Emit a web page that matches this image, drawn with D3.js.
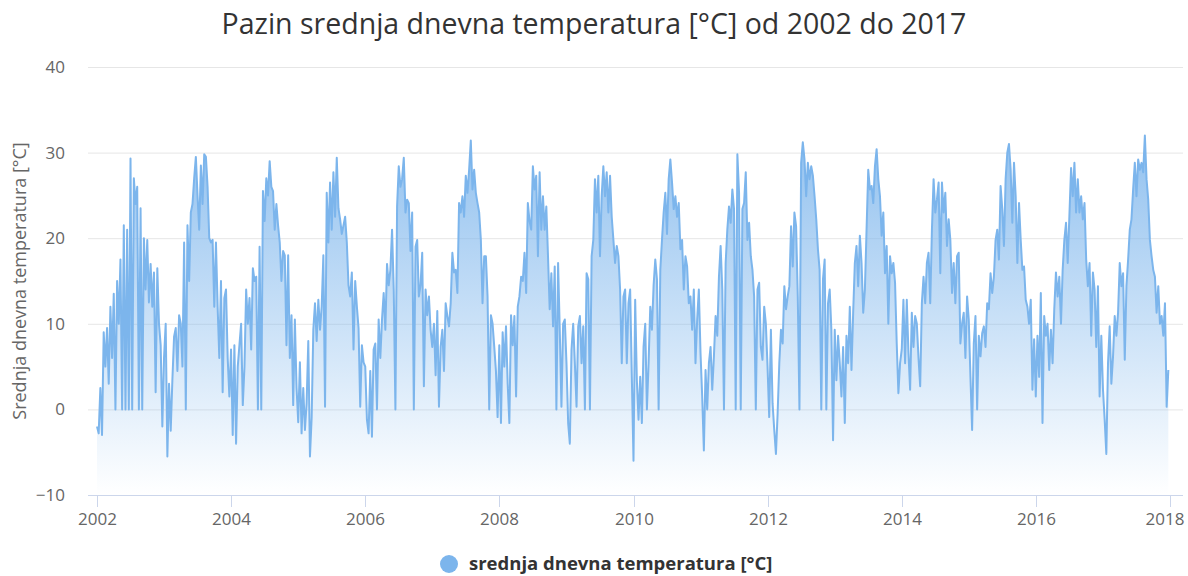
<!DOCTYPE html>
<html lang="hr">
<head>
<meta charset="utf-8">
<title>Pazin srednja dnevna temperatura</title>
<script src="https://d3js.org/d3.v7.min.js"></script>
<style>
  body { margin: 0; background: #fff; }
  text { font-family: "Open Sans", "DejaVu Sans", sans-serif; }
</style>
</head>
<body>
<div id="chart"></div>
<script>
// values, 40 per year (about every 9 days)
var t2002 = [-2,-2.8,2.5,-3,9,5,9.5,3,12,6,13.5,0,15,10,17.5,0,21.5,0,21,0,29.3,0,27,24,26,0,23.5,0,20,14,19.8,12.5,17,12,16,2,16.5,10,7.5,-2];
var t2003 = [6,10,-5.5,3,-2.5,3.5,8.5,9.5,4.5,11,10,5,19.5,0,21.5,15,23,24,27,29.5,25,21,28.5,24,29.8,29.5,26,20,19.5,19.8,12,19.5,12,6,15,2,13,14,6,1.5];
var t2004 = [7,-3,7.5,-4,5,7.5,10,0.5,5,14,10,13,7,16.5,15,15.5,0,19,0,25.5,22,27,25,29,26,25.5,21,24,21.5,19.5,15,18.5,18,7.5,18,6,11,0.5,10.5,2.5];
var t2005 = [-1.5,5.5,-2.8,2.5,-2.4,0.7,8,-5.5,-1,9.3,12.4,8,12.8,9.3,12,18,0.3,25.3,19.5,26.5,21,27.7,22.5,29.4,23.5,22.2,20.5,21.5,22.5,19.5,14.5,13.2,16,7,15,12,9.5,0.3,7.5,5.5];
var t2006 = [5,-1.2,-2.8,4.5,-3.2,7,7.7,0,10.5,6,10.5,13.6,9.3,17,14.5,16.3,21,14,0,23.7,28.4,26,26.9,29.4,23,24.5,24.1,18.5,23,0,19,19.8,13.2,14.5,18.3,2.7,14,11,13.2,9.3];
var t2007 = [7.3,10,4,11.5,0.3,7.3,9.3,4.5,12.4,10.9,9.7,12.4,18.3,16,16.3,13.6,24.1,23,24.9,22.5,27.3,25.3,28,31.4,25.7,28,25.3,24.1,23,19.8,12.4,17.9,17.9,13.2,0,11,10,7.3,4.5,-0.9];
var t2008 = [7.5,-1.6,9,5,9.7,3,-1.6,11,7.5,10.9,1.5,12,13.2,15.5,15,18.3,13.6,24.1,22,21,28.4,25.7,27.3,17.9,27.7,21,24.9,21,23.7,17.9,11.7,15.9,9.7,16.7,0,17.1,9.3,0.3,10,10.5];
var t2009 = [5.4,-1.6,-4,7,10,5.4,0.3,9.7,10.9,5.4,9.7,0,15.9,15.2,0,17.9,19.8,26.9,23,27.3,17.9,24.9,28.4,24.9,27.7,23,27.3,22.5,19.8,17.1,19.1,17.9,14,5.4,13.2,14,5.4,12.4,14,3.8];
var t2010 = [-6,12.8,3.4,-1.2,3.8,-1.6,7.3,10,0,5.4,12,9.3,14.5,17.5,15.2,0,16.3,19.8,23,25.3,20.5,26.9,29.2,26.5,23.4,24.9,22.5,24.1,18.7,19.8,14,17.9,16.7,12.4,13.2,9.3,14,5.4,10.5,14];
var t2011 = [6.6,1.5,-4.8,4.6,0,5.4,7.3,2.3,6.2,10.9,8.6,15.5,19.1,14,0,17.1,21,23.7,21.8,25.7,23.4,0,29.8,25.3,0,23.4,24.1,27.7,19.8,21.8,17.9,16.3,13.2,0,14,14.8,7.3,5.8,12,10];
var t2012 = [5,-0.9,9.3,0.7,-2.4,-5.2,-0.5,5.4,9.3,7.7,14.4,11.7,13.2,14.4,21.4,16.7,23,21.4,13.2,0,28.8,31.2,29.2,24.9,28.8,26.9,28.4,27.3,24.9,22.2,18.7,16.3,0,15.2,17.5,0,12.4,14,9.3,-3.6];
var t2013 = [9.3,3.4,8.6,5.4,1.5,7.3,-1.6,8.6,5.4,12,4.6,11.3,17.1,19.1,14.4,20.3,17.1,11.3,14,21,28,25.7,26.1,24.1,28.4,30.4,26.9,24.9,20.3,23,15.9,19.1,10,17.9,15.9,17.1,14.8,7.7,1.9,5.4];
var t2014 = [7,12.8,5.4,12.8,6.6,2.3,11.3,7.3,10.9,10,6,2.7,12.4,15.5,12.4,17.1,18.3,12.4,20.9,26.9,23,24.5,26.5,15.9,26.5,23,25.3,19.1,22.2,19.8,13.6,17.1,12.4,17.9,18.3,7.7,10,11.3,6,13.2];
var t2015 = [10.5,3.8,-2.4,7.7,10.9,0,8.6,6.2,8.9,9.7,7.3,12.4,11.7,15.9,13.6,15.5,19.8,21,17.5,26.1,23.4,19.1,26.9,30,31,28,21.8,28.8,24.9,17.1,24.1,19.8,16.3,16.7,12.8,12,10,12.8,2.3,8.2];
var t2016 = [1.5,8.6,3.8,13.6,-1.6,10.9,8.6,10,4.6,9.3,5.4,11.7,16,13.2,15.5,10,16.3,19.8,21.8,17.1,22.6,28.2,24.9,28.8,23,26.9,23,24.9,22.2,24.1,17.5,14.4,17.1,8.6,16,14,7.3,14.4,1.5,8.6];
var t2017 = [2.3,-1.2,-5.2,5.4,9.7,3,6.2,10.9,8.6,11.3,17.1,14.4,15.9,5.8,14.4,17.5,21,22.2,25.7,28.8,24.9,29.2,28,28.8,27.7,32,26.9,24.5,19.8,17.9,16.3,15.5,11.3,14.4,10,10.9,8.6,12.4,0.3,4.6];

var years = [2002,2003,2004,2005,2006,2007,2008,2009,2010,2011,2012,2013,2014,2015,2016,2017];
var yearValues = [t2002,t2003,t2004,t2005,t2006,t2007,t2008,t2009,t2010,t2011,t2012,t2013,t2014,t2015,t2016,t2017];
var xTickYears = [2002,2004,2006,2008,2010,2012,2014,2016,2018];
var yTicks = [-10,0,10,20,30,40];

var W = 1188, H = 576;
var plotLeft = 88, plotRight = 1183, plotTop = 67, plotBottom = 495;

var svg = d3.select("#chart").append("svg")
    .attr("width", W).attr("height", H);

var x = d3.scaleTime()
    .domain([new Date(2002, 0, 1), new Date(2018, 0, 1)])
    .range([97, 1170]);
var y = d3.scaleLinear().domain([-10, 40]).range([plotBottom, plotTop]);

// build points from the per-year lists
var data = [];
years.forEach(function(yr, k) {
    var start = new Date(yr, 0, 1), end = new Date(yr + 1, 0, 1);
    var vals = yearValues[k];
    vals.forEach(function(v, i) {
        data.push({date: new Date(+start + (end - start) * i / vals.length), v: v});
    });
});

// gradient fill
var grad = svg.append("defs").append("linearGradient")
    .attr("id", "fill").attr("gradientUnits", "userSpaceOnUse")
    .attr("x1", 0).attr("y1", plotTop).attr("x2", 0).attr("y2", plotBottom);
grad.append("stop").attr("offset", 0).attr("stop-color", "#7cb5ec").attr("stop-opacity", 1);
grad.append("stop").attr("offset", 1).attr("stop-color", "#7cb5ec").attr("stop-opacity", 0);

// title
svg.append("text")
    .attr("x", W / 2).attr("y", 34)
    .attr("text-anchor", "middle")
    .style("font-size", "28.5px").style("fill", "#333")
    .text("Pazin srednja dnevna temperatura [°C] od 2002 do 2017");

// grid lines + y labels
svg.append("g").selectAll("line").data(yTicks.filter(function(d) { return d > -10; }))
    .enter().append("line")
    .attr("x1", plotLeft).attr("x2", plotRight)
    .attr("y1", function(d) { return y(d) + 0.5; })
    .attr("y2", function(d) { return y(d) + 0.5; })
    .attr("stroke", "#e6e6e6").attr("stroke-width", 1);

svg.append("g").selectAll("text").data(yTicks)
    .enter().append("text")
    .attr("x", 65).attr("y", function(d) { return y(d) + 6; })
    .attr("text-anchor", "end")
    .style("font-size", "17px").style("fill", "#666")
    .text(function(d) { return d < 0 ? "\u2212" + Math.abs(d) : d; });

svg.append("text")
    .attr("transform", "translate(26," + ((plotTop + plotBottom) / 2) + ") rotate(-90)")
    .attr("text-anchor", "middle")
    .style("font-size", "18px").style("fill", "#666")
    .text("Srednja dnevna temperatura [°C]");

// area + line
var area = d3.area()
    .x(function(d) { return x(d.date); })
    .y0(y(-10))
    .y1(function(d) { return y(d.v); });
var line = d3.line()
    .x(function(d) { return x(d.date); })
    .y(function(d) { return y(d.v); });

svg.append("path").datum(data)
    .attr("d", area).attr("fill", "url(#fill)");
svg.append("path").datum(data)
    .attr("d", line).attr("fill", "none")
    .attr("stroke", "#7cb5ec").attr("stroke-width", 2)
    .attr("stroke-linejoin", "round");

// x axis
svg.append("line")
    .attr("x1", plotLeft).attr("x2", plotRight)
    .attr("y1", plotBottom + 0.5).attr("y2", plotBottom + 0.5)
    .attr("stroke", "#ccd6eb");

var xt = svg.append("g").selectAll("g")
    .data(xTickYears.map(function(yr) { return new Date(yr, 0, 1); }))
    .enter().append("g")
    .attr("transform", function(d) { return "translate(" + (Math.round(x(d)) + 0.5) + ",0)"; });
xt.append("line")
    .attr("y1", plotBottom).attr("y2", plotBottom + 12)
    .attr("stroke", "#ccd6eb");
xt.append("text")
    .attr("y", plotBottom + 30)
    .attr("text-anchor", "middle")
    .style("font-size", "17px").style("fill", "#666")
    .text(function(d) { return d.getFullYear(); })
    .each(function(d) {
        // keep the last label inside the chart, like the original
        var w = this.getComputedTextLength();
        var over = Math.round(x(d)) + w / 2 - (plotRight + 1);
        if (over > 0) d3.select(this).attr("dx", -over);
    });

// legend
var legend = svg.append("g").attr("transform", "translate(449,564)");
legend.append("circle").attr("r", 9).attr("fill", "#7cb5ec");
legend.append("text")
    .attr("x", 20).attr("y", 6)
    .style("font-size", "18.5px").style("font-weight", "bold").style("fill", "#333")
    .text("srednja dnevna temperatura [°C]");
</script>
</body>
</html>
